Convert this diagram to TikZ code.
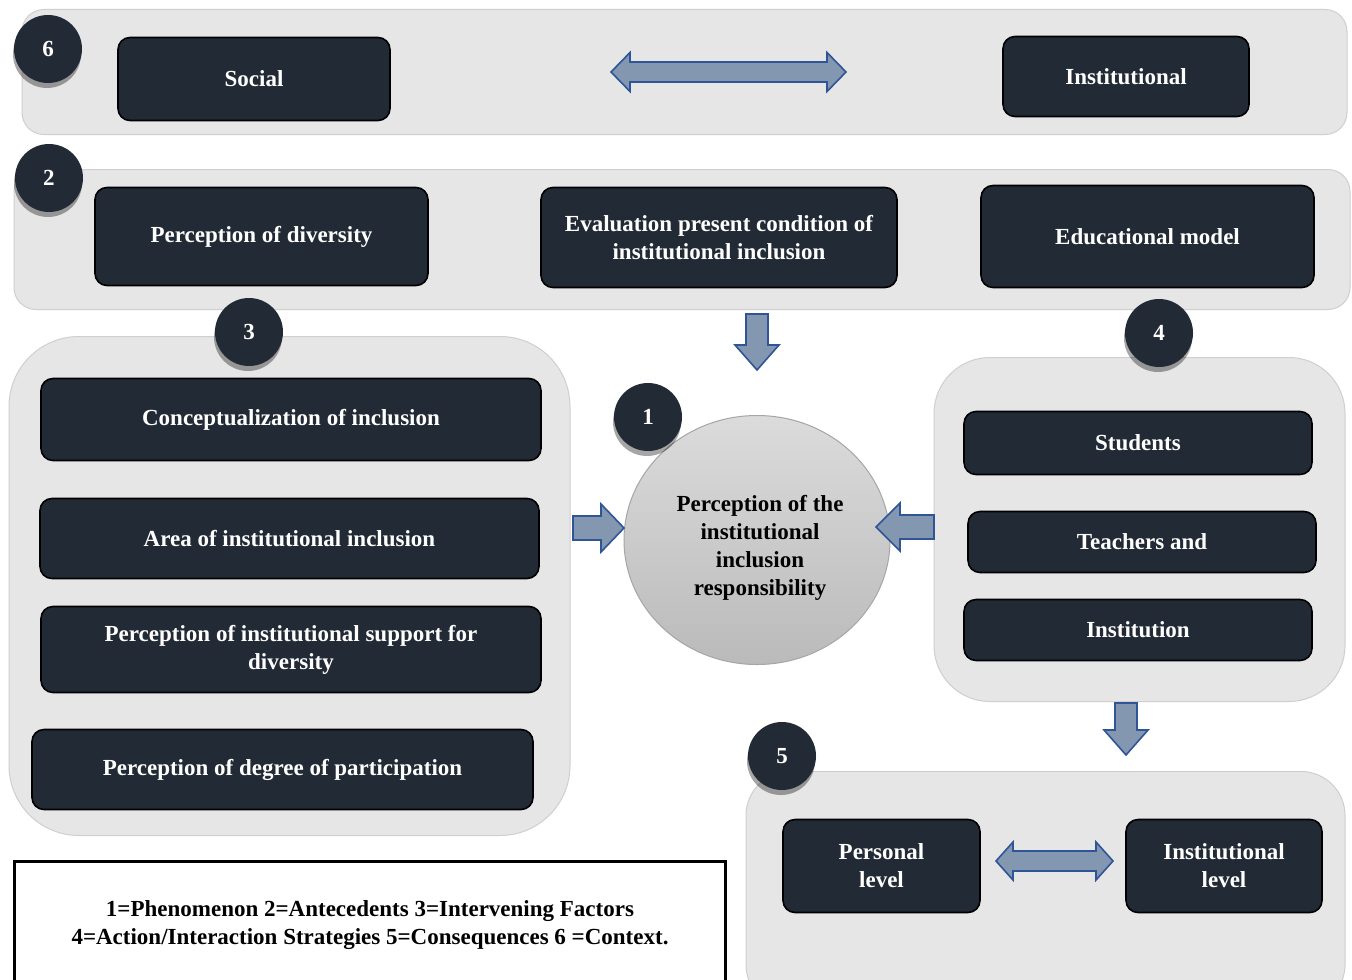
\documentclass[tikz,border=0pt]{standalone}
\usepackage{fontspec}
\setmainfont{Liberation Serif}
\usetikzlibrary{shapes.geometric,shadows}
\definecolor{darkbox}{HTML}{222A35}
\definecolor{bandfill}{HTML}{E7E6E6}
\definecolor{bandline}{HTML}{D0CECE}
\definecolor{arrfill}{HTML}{8497B0}
\definecolor{arrline}{HTML}{2F5597}
\newcommand\placebox[7]{\node[#1,minimum width={(#5-#3)*0.5pt},minimum height={(#6-#4)*0.5pt}] (#2) at ({(#3+#5)/2},{(#4+#6)/2+1.5}) {#7};}
\newcommand\blkdown[6]{% cx, top, bottom, headstart, shafthalf, headhalf
 \draw[blockarrow] ({#1-#5},#2) -- ({#1+#5},#2) -- ({#1+#5},#4) -- ({#1+#6},#4) -- (#1,#3) -- ({#1-#6},#4) -- ({#1-#5},#4) -- cycle;}
\newcommand\blkright[6]{% cy, left, right, headstart, shafthalf, headhalf
 \draw[blockarrow] (#2,{#1-#5}) -- (#4,{#1-#5}) -- (#4,{#1-#6}) -- (#3,#1) -- (#4,{#1+#6}) -- (#4,{#1+#5}) -- (#2,{#1+#5}) -- cycle;}
\newcommand\blkleft[6]{% cy, right, left, headstart, shafthalf, headhalf
 \draw[blockarrow] (#2,{#1-#5}) -- (#4,{#1-#5}) -- (#4,{#1-#6}) -- (#3,#1) -- (#4,{#1+#6}) -- (#4,{#1+#5}) -- (#2,{#1+#5}) -- cycle;}
\newcommand\blkdouble[6]{% cy, left, right, headlen, shafthalf, headhalf
 \draw[blockarrow] (#2,#1) -- ({#2+#4},{#1-#6}) -- ({#2+#4},{#1-#5}) -- ({#3-#4},{#1-#5}) -- ({#3-#4},{#1-#6}) -- (#3,#1) -- ({#3-#4},{#1+#6}) -- ({#3-#4},{#1+#5}) -- ({#2+#4},{#1+#5}) -- ({#2+#4},{#1+#6}) -- cycle;}
\tikzset{
 band/.style={draw=bandline,fill=bandfill,line width=0.5pt,inner sep=0pt,outer sep=0pt},
 dbox/.style={draw=black,fill=darkbox,rounded corners=6pt,line width=0.8pt,inner sep=0pt,outer sep=0pt,
   text=white,font=\fontsize{11.5}{14}\selectfont\bfseries,align=center},
 numc/.style={circle,fill=darkbox,inner sep=0pt,minimum size=34pt,text=white,
   font=\fontsize{11.5}{14}\selectfont\bfseries,
   drop shadow={shadow xshift=-0.5pt,shadow yshift=-2.5pt,opacity=0.35,fill=black}},
 blockarrow/.style={fill=arrfill,draw=arrline,line width=0.8pt,line join=miter},
}
\begin{document}
\begin{tikzpicture}[x=0.5pt,y=-0.5pt]
\useasboundingbox (0,0) rectangle (1352,979);
\clip (0,0) rectangle (1352,979);
\fill[white] (0,0) rectangle (1352,979);
% bands
\placebox{band,rounded corners=11pt}{b6}{22}{8}{1347}{133}{}
\placebox{band,rounded corners=11pt}{b2}{14}{168}{1350}{308}{}
\placebox{band,rounded corners=35pt}{b3}{9}{335}{570}{834}{}
\placebox{band,rounded corners=28pt}{b4}{934}{356}{1345}{700}{}
\placebox{band,rounded corners=22pt}{b5}{746}{770}{1345}{1007}{}
% context row
\placebox{dbox}{social}{118}{36}{390}{119}{Social}
\placebox{dbox}{inst}{1003}{35}{1249}{115}{Institutional}
\blkdouble{72}{611}{846}{19}{10}{19.5}
% antecedents row
\placebox{dbox}{pdiv}{95}{186}{428}{284}{Perception of diversity}
\placebox{dbox}{eval}{541}{186}{897}{286}{Evaluation present condition of\\institutional inclusion}
\placebox{dbox}{edu}{981}{184}{1314}{286}{Educational model}
% intervening
\placebox{dbox}{conc}{41}{377}{541}{459}{Conceptualization of inclusion}
\placebox{dbox}{area}{40}{497}{539}{577}{Area of institutional inclusion}
\placebox{dbox}{supp}{41}{605}{541}{691}{Perception of institutional support for\\diversity}
\placebox{dbox}{part}{32}{728}{533}{808}{Perception of degree of participation}
% strategies
\placebox{dbox}{stud}{964}{410}{1312}{473}{Students}
\placebox{dbox}{teach}{968}{510}{1316}{571}{Teachers and}
\placebox{dbox}{instn}{964}{598}{1312}{659}{Institution}
% consequences
\placebox{dbox}{pers}{783}{818}{980}{911}{Personal\\level}
\placebox{dbox}{instl}{1126}{818}{1322}{911}{Institutional\\level}
\blkdouble{861}{996}{1113}{17}{10}{19}
% phenomenon
\node[ellipse,draw=black!35,line width=0.5pt,top color=black!14,bottom color=black!27,
  minimum width=133pt,minimum height=124.5pt,inner sep=0pt] (phen) at (757,540) {};
\node[align=center,font=\fontsize{11.5}{14}\selectfont\bfseries] (phentext) at (760,548)
  {Perception of the\\institutional\\inclusion\\responsibility};
% block arrows
\blkdown{757}{314}{370}{345}{11}{22}
\blkright{528}{573}{624}{601}{12}{24}
\blkleft{527}{934}{876}{900}{12}{24}
\blkdown{1126}{703}{755}{730}{11}{22}
% number circles
\node[numc] (n6) at (48,49) {6};
\node[numc] (n2) at (49,178) {2};
\node[numc] (n3) at (249,332) {3};
\node[numc] (n1) at (648,417) {1};
\node[numc] (n4) at (1159,333) {4};
\node[numc] (n5) at (782,756) {5};
% legend
\draw[line width=1.5pt,fill=white,drop shadow={shadow xshift=0pt,shadow yshift=-1pt,opacity=0.3}] (14,861) rectangle (725,1000);
\node[align=center,font=\fontsize{11.5}{14}\selectfont\bfseries] (legend) at (370,925)
  {1=Phenomenon 2=Antecedents 3=Intervening Factors\\4=Action/Interaction Strategies 5=Consequences 6 =Context.};
\end{tikzpicture}
\end{document}
